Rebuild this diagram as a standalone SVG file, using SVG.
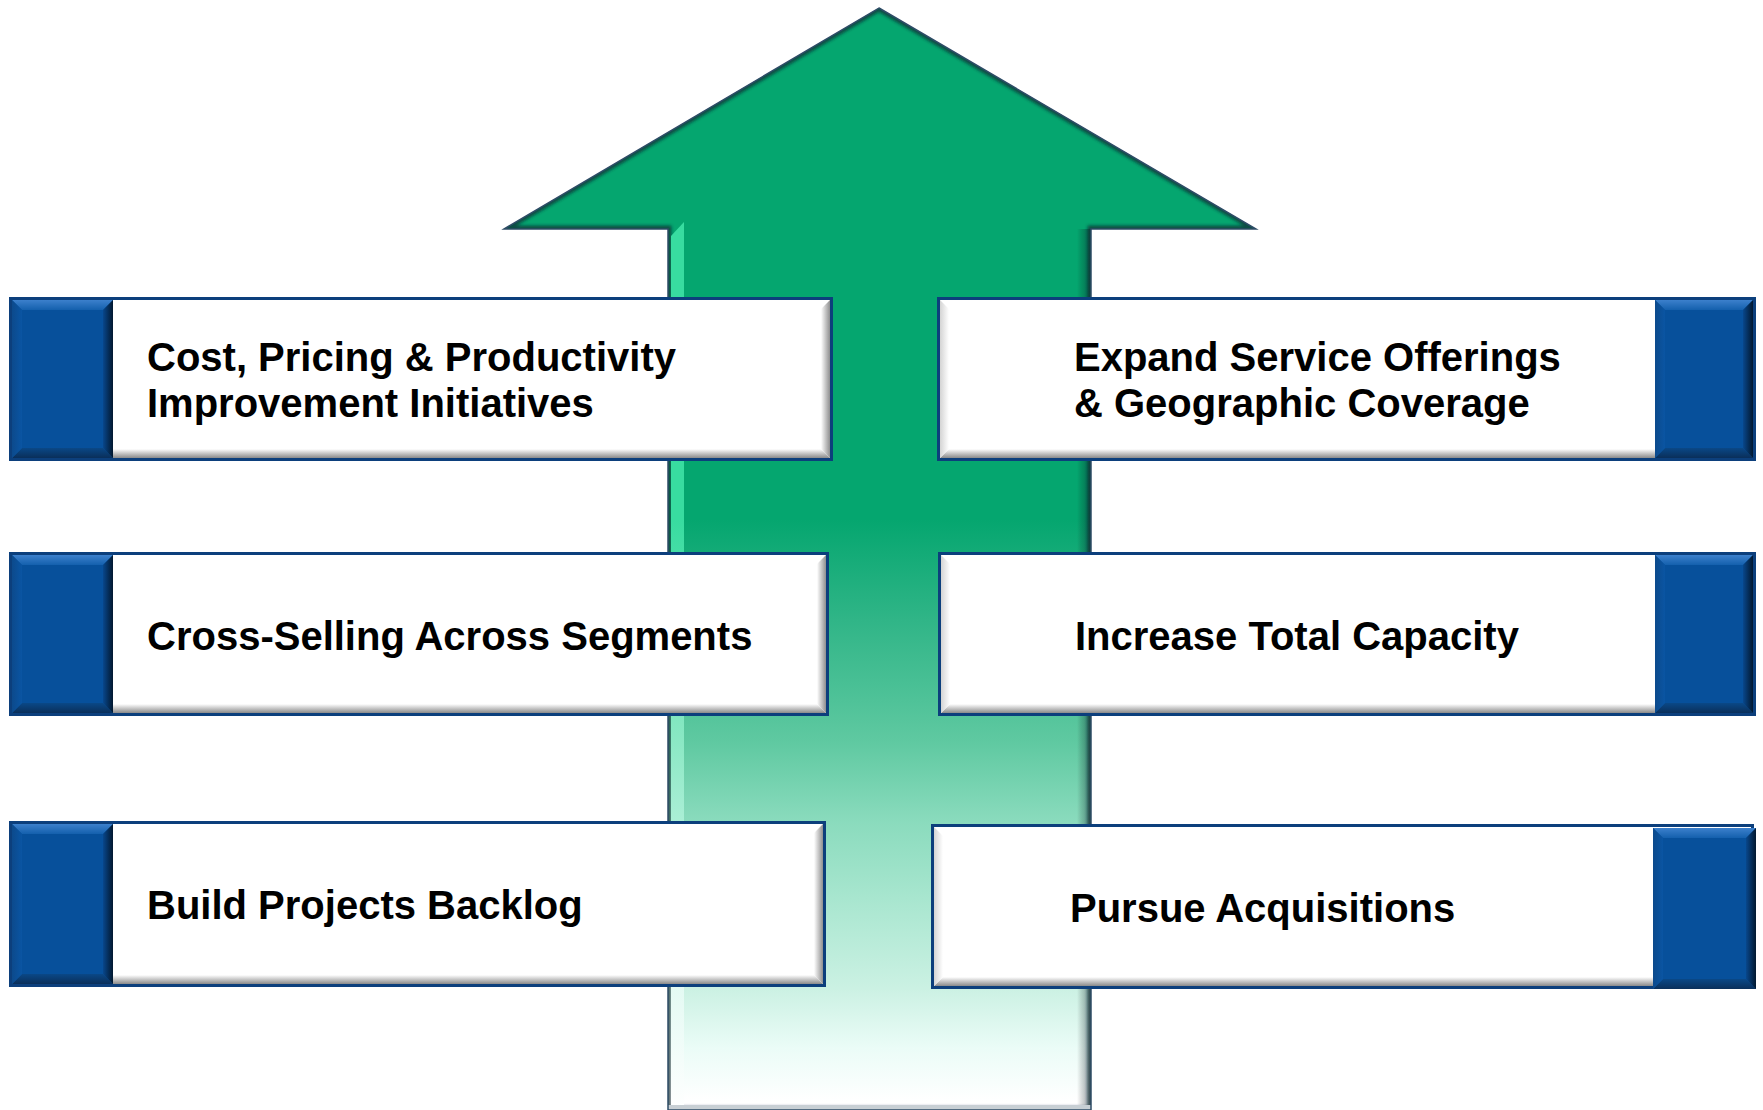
<svg xmlns="http://www.w3.org/2000/svg" width="1763" height="1110" viewBox="0 0 1763 1110">
<style>
.lbl{font-family:"Liberation Sans",Arial,sans-serif;font-weight:bold;font-size:40px;fill:#000}
.bd{fill:#fff;stroke:#0c3f7c;stroke-width:3}
.tab{fill:#07509b}
.tt{fill:url(#tabTop)}.tb{fill:url(#tabBot)}.tl{fill:url(#tabLeft)}.tr{fill:url(#tabRight)}
.wb{fill:url(#wBot)}.wr{fill:url(#wRight)}.wl{fill:url(#wLeft)}
</style>
<defs>
<linearGradient id="shaft" gradientUnits="userSpaceOnUse" x1="0" y1="229" x2="0" y2="1110">
<stop offset="0" stop-color="#05a66f"/>
<stop offset="0.33" stop-color="#05a66f"/>
<stop offset="0.444" stop-color="#30b587"/>
<stop offset="0.582" stop-color="#5fc9a1"/>
<stop offset="0.672" stop-color="#8adbbd"/>
<stop offset="0.76" stop-color="#a8e6cf"/>
<stop offset="0.862" stop-color="#cbf1e3"/>
<stop offset="0.93" stop-color="#ebfcf7"/>
<stop offset="0.99" stop-color="#ffffff"/>
</linearGradient>
<linearGradient id="hiL" gradientUnits="userSpaceOnUse" x1="0" y1="229" x2="0" y2="1110">
<stop offset="0" stop-color="#38dca0"/>
<stop offset="0.33" stop-color="#38dca0"/>
<stop offset="0.58" stop-color="#8ae8c4"/>
<stop offset="0.8" stop-color="#d8f8ee"/>
<stop offset="1" stop-color="#ffffff"/>
</linearGradient>
<linearGradient id="shR" x1="0" y1="0" x2="1" y2="0">
<stop offset="0" stop-color="#000" stop-opacity="0"/>
<stop offset="1" stop-color="#0a2a35" stop-opacity="0.45"/>
</linearGradient>
<linearGradient id="tabTop" x1="0" y1="0" x2="0" y2="1">
<stop offset="0" stop-color="#3c80cc"/><stop offset="1" stop-color="#1460ad"/>
</linearGradient>
<linearGradient id="tabBot" x1="0" y1="0" x2="0" y2="1">
<stop offset="0" stop-color="#0a4887"/><stop offset="1" stop-color="#0a2f5a"/>
</linearGradient>
<linearGradient id="tabLeft" x1="0" y1="0" x2="1" y2="0">
<stop offset="0" stop-color="#0c4a8c"/><stop offset="1" stop-color="#0a55a3"/>
</linearGradient>
<linearGradient id="tabRight" x1="0" y1="0" x2="1" y2="0">
<stop offset="0" stop-color="#08478c"/><stop offset="1" stop-color="#02182f"/>
</linearGradient>
<linearGradient id="wBot" x1="0" y1="0" x2="0" y2="1">
<stop offset="0" stop-color="#fff"/><stop offset="1" stop-color="#8a8a8a"/>
</linearGradient>
<linearGradient id="wRight" x1="0" y1="0" x2="1" y2="0">
<stop offset="0" stop-color="#fff"/><stop offset="1" stop-color="#8f8f8f"/>
</linearGradient>
<linearGradient id="wLeft" x1="0" y1="0" x2="1" y2="0">
<stop offset="0" stop-color="#d4d4d4"/><stop offset="1" stop-color="#fff"/>
</linearGradient>
<clipPath id="arrowClip"><path d="M879,8 L1256,229 L1091,229 L1091,1110 L668,1110 L668,229 L504,229 Z"/></clipPath>
<filter id="blur" x="-5%" y="-5%" width="110%" height="110%"><feGaussianBlur stdDeviation="1.8"/></filter>
</defs>

<g id="arrow">
<path d="M879,8 L1256,229 L1091,229 L1091,1110 L668,1110 L668,229 L504,229 Z" fill="url(#shaft)"/>
<g clip-path="url(#arrowClip)">
<path d="M879,8 L1256,229 L1091,229 L1091,1110 L668,1110 L668,229 L504,229 Z" fill="none" stroke="#0c2a33" stroke-opacity="0.7" stroke-width="7" filter="url(#blur)"/>
<path d="M671,236 L684,222 L684,1106 L671,1106 Z" fill="url(#hiL)"/>
<rect x="1077" y="229" width="14" height="881" fill="url(#shR)"/>
<rect x="668" y="1105" width="423" height="5" fill="#c8cfd4"/>
</g>
<path d="M879,8 L1256,229 L1091,229 L1091,1110 L668,1110 L668,229 L504,229 Z" fill="none" stroke="#2e4c66" stroke-width="1.5"/>
</g>

<g id="connectors"></g>

<g id="node-cost">
<rect class="bd" x="10.5" y="298.5" width="821" height="161"/>
<polygon class="wb" points="113,458 830,458 821,449 113,449"/>
<polygon class="wr" points="830,300 830,458 821,449 821,309"/>
<rect class="tab" x="12" y="300" width="101" height="158"/>
<polygon class="tt" points="12,300 113,300 103,310 22,310"/>
<polygon class="tb" points="12,458 113,458 103,448 22,448"/>
<polygon class="tl" points="12,300 22,310 22,448 12,458"/>
<polygon class="tr" points="113,300 103,310 103,448 113,458"/>
<text class="lbl" x="147" y="371">Cost, Pricing &amp; Productivity</text>
<text class="lbl" x="147" y="417">Improvement Initiatives</text>
</g>

<g id="node-cross">
<rect class="bd" x="10.5" y="553.5" width="817" height="161"/>
<polygon class="wb" points="113,713 826,713 817,704 113,704"/>
<polygon class="wr" points="826,555 826,713 817,704 817,564"/>
<rect class="tab" x="12" y="555" width="101" height="158"/>
<polygon class="tt" points="12,555 113,555 103,565 22,565"/>
<polygon class="tb" points="12,713 113,713 103,703 22,703"/>
<polygon class="tl" points="12,555 22,565 22,703 12,713"/>
<polygon class="tr" points="113,555 103,565 103,703 113,713"/>
<text class="lbl" x="147" y="650">Cross-Selling Across Segments</text>
</g>

<g id="node-backlog">
<rect class="bd" x="10.5" y="822.5" width="814" height="163"/>
<polygon class="wb" points="113,984 823,984 814,975 113,975"/>
<polygon class="wr" points="823,824 823,984 814,975 814,833"/>
<rect class="tab" x="12" y="824" width="101" height="160"/>
<polygon class="tt" points="12,824 113,824 103,834 22,834"/>
<polygon class="tb" points="12,984 113,984 103,974 22,974"/>
<polygon class="tl" points="12,824 22,834 22,974 12,984"/>
<polygon class="tr" points="113,824 103,834 103,974 113,984"/>
<text class="lbl" x="147" y="919">Build Projects Backlog</text>
</g>

<g id="node-expand">
<rect class="bd" x="938.5" y="298.5" width="816" height="161"/>
<polygon class="wb" points="940,458 1655,458 1655,449 949,449"/>
<polygon class="wl" points="940,300 949,309 949,449 940,458"/>
<rect class="tab" x="1655" y="300" width="98" height="158"/>
<polygon class="tt" points="1655,300 1753,300 1743,310 1665,310"/>
<polygon class="tb" points="1655,458 1753,458 1743,448 1665,448"/>
<polygon class="tl" points="1655,300 1665,310 1665,448 1655,458"/>
<polygon class="tr" points="1753,300 1743,310 1743,448 1753,458"/>
<text class="lbl" x="1074" y="371">Expand Service Offerings</text>
<text class="lbl" x="1074" y="417">&amp; Geographic Coverage</text>
</g>

<g id="node-capacity">
<rect class="bd" x="939.5" y="553.5" width="815" height="161"/>
<polygon class="wb" points="941,713 1655,713 1655,704 950,704"/>
<polygon class="wl" points="941,555 950,564 950,704 941,713"/>
<rect class="tab" x="1655" y="555" width="98" height="158"/>
<polygon class="tt" points="1655,555 1753,555 1743,565 1665,565"/>
<polygon class="tb" points="1655,713 1753,713 1743,703 1665,703"/>
<polygon class="tl" points="1655,555 1665,565 1665,703 1655,713"/>
<polygon class="tr" points="1753,555 1743,565 1743,703 1753,713"/>
<text class="lbl" x="1075" y="650">Increase Total Capacity</text>
</g>

<g id="node-acquisitions">
<rect class="bd" x="932.5" y="825.5" width="820" height="162"/>
<polygon class="wb" points="934,986 1653,986 1653,977 943,977"/>
<polygon class="wl" points="934,827 943,836 943,977 934,986"/>
<rect class="tab" x="1653" y="828" width="103" height="161"/>
<polygon class="tt" points="1653,828 1756,828 1746,838 1663,838"/>
<polygon class="tb" points="1653,989 1756,989 1746,979 1663,979"/>
<polygon class="tl" points="1653,828 1663,838 1663,979 1653,989"/>
<polygon class="tr" points="1756,828 1746,838 1746,979 1756,989"/>
<text class="lbl" x="1070" y="922">Pursue Acquisitions</text>
</g>
</svg>
